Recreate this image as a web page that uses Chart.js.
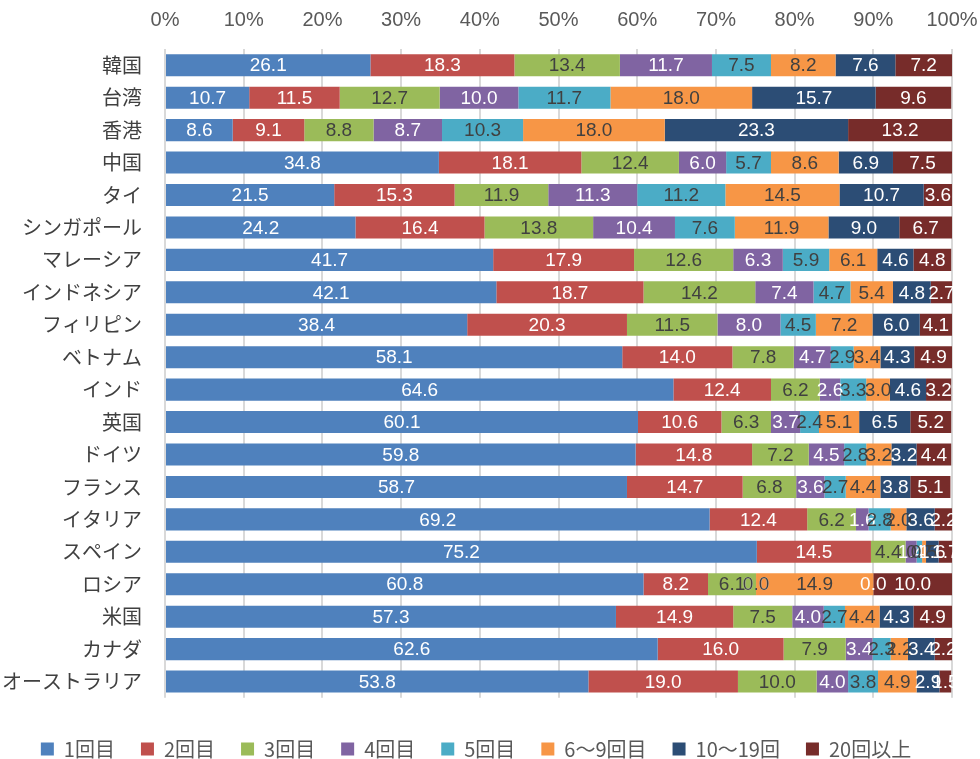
<!DOCTYPE html>
<html>
<head>
<meta charset="utf-8">
<script src="https://cdn.jsdelivr.net/npm/chart.js@4.4.0/dist/chart.umd.min.js"></script>
<style>
  html, body { margin: 0; padding: 0; background: #fff; }
  #wrap { width: 980px; height: 759px; position: relative; }
</style>
</head>
<body>
<div id="wrap"><canvas id="chart"></canvas></div>
<script>
// categories (countries)
const countries = ["韓国", "台湾", "香港", "中国", "タイ", "シンガポール", "マレーシア", "インドネシア",
    "フィリピン", "ベトナム", "インド", "英国", "ドイツ", "フランス", "イタリア", "スペイン",
    "ロシア", "米国", "カナダ", "オーストラリア"];

// series names
const seriesNames = ["1回目", "2回目", "3回目", "4回目", "5回目", "6〜9回目", "10〜19回", "20回以上"];

// values per series (%), one per country
const visit1  = [26.1, 10.7, 8.6, 34.8, 21.5, 24.2, 41.7, 42.1, 38.4, 58.1, 64.6, 60.1, 59.8, 58.7, 69.2, 75.2, 60.8, 57.3, 62.6, 53.8];
const visit2  = [18.3, 11.5, 9.1, 18.1, 15.3, 16.4, 17.9, 18.7, 20.3, 14.0, 12.4, 10.6, 14.8, 14.7, 12.4, 14.5, 8.2, 14.9, 16.0, 19.0];
const visit3  = [13.4, 12.7, 8.8, 12.4, 11.9, 13.8, 12.6, 14.2, 11.5, 7.8, 6.2, 6.3, 7.2, 6.8, 6.2, 4.4, 6.1, 7.5, 7.9, 10.0];
const visit4  = [11.7, 10.0, 8.7, 6.0, 11.3, 10.4, 6.3, 7.4, 8.0, 4.7, 2.6, 3.7, 4.5, 3.6, 1.6, 1.4, 0.0, 4.0, 3.4, 4.0];
const visit5  = [7.5, 11.7, 10.3, 5.7, 11.2, 7.6, 5.9, 4.7, 4.5, 2.9, 3.3, 2.4, 2.8, 2.7, 2.8, 0.7, 0.0, 2.7, 2.3, 3.8];
const visit6  = [8.2, 18.0, 18.0, 8.6, 14.5, 11.9, 6.1, 5.4, 7.2, 3.4, 3.0, 5.1, 3.2, 4.4, 2.0, 0.5, 14.9, 4.4, 2.2, 4.9];
const visit10 = [7.6, 15.7, 23.3, 6.9, 10.7, 9.0, 4.6, 4.8, 6.0, 4.3, 4.6, 6.5, 3.2, 3.8, 3.6, 1.6, 0.0, 4.3, 3.4, 2.9];
const visit20 = [7.2, 9.6, 13.2, 7.5, 3.6, 6.7, 4.8, 2.7, 4.1, 4.9, 3.2, 5.2, 4.4, 5.1, 2.2, 1.7, 10.0, 4.9, 2.2, 1.5];

const seriesValues = [visit1, visit2, visit3, visit4, visit5, visit6, visit10, visit20];
const colors = ["#4F81BD", "#C0504D", "#9BBB59", "#8064A2", "#4BACC6", "#F79646", "#2C4D75", "#772C2A"];
const labelColors = ["#fff", "#fff", "#404040", "#fff", "#404040", "#404040", "#fff", "#fff"];

// draws the value in the middle of each segment
const segmentLabels = {
    id: "segmentLabels",
    afterDatasetsDraw(chart) {
        const ctx = chart.ctx;
        ctx.save();
        ctx.font = "19px 'Liberation Sans', Arial, sans-serif";
        ctx.textAlign = "center";
        ctx.textBaseline = "middle";
        chart.data.datasets.forEach((ds, i) => {
            const meta = chart.getDatasetMeta(i);
            if (meta.hidden) return;
            ctx.fillStyle = labelColors[i];
            meta.data.forEach((bar, j) => {
                const x = (bar.x + bar.base) / 2;
                ctx.fillText(ds.data[j].toFixed(1), x, bar.y + 1);
            });
        });
        ctx.restore();
    }
};

new Chart(document.getElementById("chart"), {
    type: "bar",
    data: {
        labels: countries,
        datasets: seriesNames.map((name, i) => ({
            label: name,
            data: seriesValues[i],
            backgroundColor: colors[i],
            borderWidth: 0,
            categoryPercentage: 1,
            barPercentage: 0.68
        }))
    },
    options: {
        indexAxis: "y",
        responsive: true,
        maintainAspectRatio: false,
        animation: false,
        layout: { autoPadding: false, padding: { top: 8, right: 28, bottom: -10, left: 0 } },
        scales: {
            x: {
                position: "top",
                stacked: true,
                min: 0, max: 100,
                afterFit: scale => { scale.height = 41; scale.paddingLeft = 0; scale.paddingRight = 0; },
                ticks: {
                    stepSize: 10,
                    padding: 17,
                    maxRotation: 0,
                    color: "#595959",
                    font: { family: "'Liberation Sans', Arial, sans-serif", size: 20 },
                    callback: v => v + "%"
                },
                grid: { color: "#d9d9d9", lineWidth: 2, drawTicks: false },
                border: { display: false }
            },
            y: {
                stacked: true,
                afterFit: scale => { scale.width = 165; scale.paddingTop = 0; scale.paddingBottom = 0; },
                ticks: {
                    padding: 23,
                    color: "#404040",
                    font: { family: "'Noto Sans CJK JP', sans-serif", size: 20 }
                },
                grid: { display: false, drawTicks: false },
                border: { display: false }
            }
        },
        plugins: {
            legend: {
                position: "bottom",
                title: { display: true, text: "", font: { size: 1 }, padding: { top: 14, bottom: 0 } },
                labels: {
                    boxWidth: 13,
                    boxHeight: 13,
                    padding: 26,
                    color: "#595959",
                    font: { family: "'Noto Sans CJK JP', sans-serif", size: 20 }
                }
            },
            tooltip: { enabled: false }
        }
    },
    plugins: [segmentLabels]
});
</script>
</body>
</html>
